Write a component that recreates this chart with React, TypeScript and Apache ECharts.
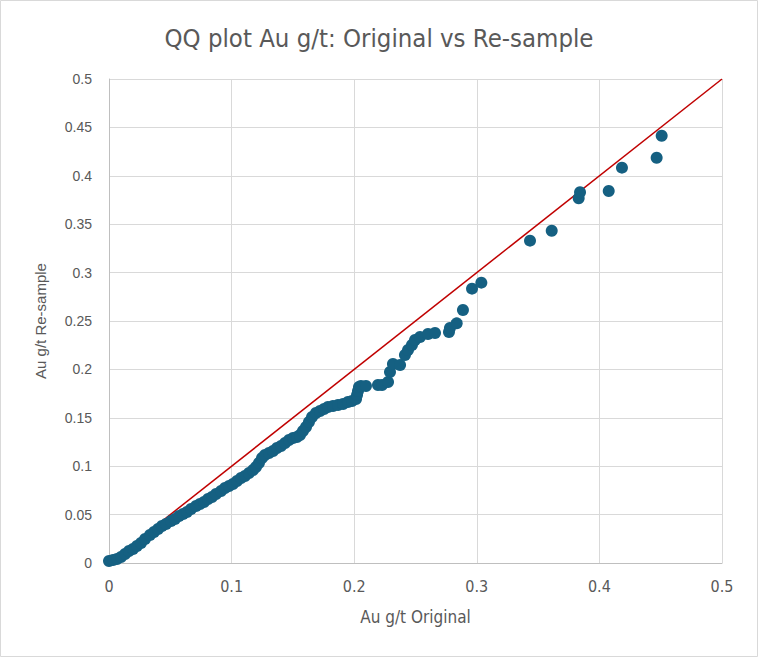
import React, { useEffect, useRef } from "react";
import * as echarts from "echarts";

const TITLE = "QQ plot Au g/t: Original vs Re-sample";
const X_NAME = "Au g/t Original";
const Y_NAME = "Au g/t Re-sample";

const xTicks = [0, 0.1, 0.2, 0.3, 0.4, 0.5];
const yTicks = [0, 0.05, 0.1, 0.15, 0.2, 0.25, 0.3, 0.35, 0.4, 0.45, 0.5];

// Quantiles of Au g/t: original (x) vs re-sample (y)
const originalQ = [
  0.0, 0.0033, 0.0065, 0.0098, 0.0131, 0.0163, 0.0196, 0.0228, 0.0261, 0.0294,
  0.0334, 0.0367, 0.04, 0.0432, 0.0465, 0.0506, 0.0538, 0.0571, 0.0604, 0.0636,
  0.0669, 0.071, 0.0742, 0.0775, 0.0808, 0.084, 0.0873, 0.0914, 0.0946, 0.0979,
  0.1011, 0.1044, 0.1077, 0.1109, 0.1142, 0.1175, 0.1199, 0.1223, 0.1248, 0.1272,
  0.1305, 0.1338, 0.137, 0.1403, 0.1436, 0.1468, 0.1501, 0.1533, 0.1558, 0.1582,
  0.1607, 0.1631, 0.1656, 0.1688, 0.1721, 0.1754, 0.1786, 0.1827, 0.1868, 0.1909,
  0.1949, 0.1982, 0.2015, 0.2023, 0.2031, 0.2039, 0.2055, 0.2096, 0.2194, 0.2227,
  0.2276, 0.2292, 0.2316, 0.2374, 0.2414, 0.2439, 0.2471, 0.2496, 0.2537, 0.2602,
  0.2659, 0.2773, 0.2781, 0.2836, 0.2887, 0.2961, 0.3037, 0.3434, 0.3611, 0.3831,
  0.3842, 0.4076, 0.4184, 0.4467, 0.4508,
];
const resampleQ = [
  0.0021, 0.0031, 0.0041, 0.0062, 0.0093, 0.0124, 0.0145, 0.0176, 0.0207, 0.0248,
  0.0289, 0.032, 0.0351, 0.0382, 0.0403, 0.0434, 0.0455, 0.0486, 0.0506, 0.0527,
  0.0558, 0.0589, 0.061, 0.063, 0.0661, 0.0682, 0.0713, 0.0744, 0.0775, 0.0795,
  0.0816, 0.0847, 0.0878, 0.0899, 0.093, 0.0961, 0.0992, 0.1033, 0.1085, 0.1116,
  0.1136, 0.1157, 0.1188, 0.1209, 0.124, 0.1271, 0.1291, 0.1302, 0.1322, 0.1364,
  0.1405, 0.1457, 0.1508, 0.155, 0.157, 0.1591, 0.1612, 0.1622, 0.1632, 0.1643,
  0.1663, 0.1674, 0.1694, 0.1736, 0.1777, 0.1818, 0.1829, 0.1829, 0.1839, 0.1839,
  0.187, 0.1973, 0.2056, 0.2045, 0.2149, 0.22, 0.2252, 0.2304, 0.2335, 0.2366,
  0.2376, 0.2386, 0.2428, 0.2476, 0.2614, 0.2834, 0.2896, 0.333, 0.3433, 0.3768,
  0.383, 0.3843, 0.4084, 0.4187, 0.4414,
];

const refLine = [
  [0, 0],
  [0.5, 0.5],
];

const NARROW = '"Liberation Sans Narrow", "DejaVu Sans Condensed", "Roboto", sans-serif';
const ARIAL = '"Liberation Sans", Arial, sans-serif';

export default function App() {
  const ref = useRef<HTMLDivElement>(null);

  useEffect(() => {
    document.body.style.margin = "0";
    if (!ref.current) return;
    const chart = echarts.init(ref.current, null, { renderer: "svg" });
    const points = originalQ.map((x, i) => [x, resampleQ[i]]);
    chart.setOption({
      animation: false,
      backgroundColor: "#ffffff",
      title: {
        text: TITLE,
        left: "center",
        top: 20,
        textStyle: {
          fontFamily: NARROW,
          fontSize: 25.5,
          fontWeight: "normal",
          color: "#595959",
        },
      },
      graphic: [
        {
          type: "rect",
          shape: { x: 0.5, y: 0.5, width: 757, height: 656 },
          style: { fill: "none", stroke: "#d9d9d9", lineWidth: 1 },
          silent: true,
        },
      ],
      grid: { left: 109, right: 36, top: 79, bottom: 94 },
      xAxis: {
        type: "value",
        min: 0,
        max: 0.5,
        interval: 0.1,
        name: X_NAME,
        nameLocation: "middle",
        nameGap: 45,
        nameTextStyle: { fontFamily: NARROW, fontSize: 17, color: "#595959" },
        axisLine: { show: true, lineStyle: { color: "#bfbfbf", width: 1 } },
        axisTick: { show: false },
        splitLine: { show: true, lineStyle: { color: "#d9d9d9", width: 1 } },
        axisLabel: {
          margin: 15,
          fontFamily: NARROW,
          fontSize: 16,
          color: "#595959",
          formatter: (v: number) => (xTicks.includes(Math.round(v * 10) / 10) ? String(Math.round(v * 10) / 10) : ""),
        },
      },
      yAxis: {
        type: "value",
        min: 0,
        max: 0.5,
        interval: 0.05,
        name: Y_NAME,
        nameLocation: "middle",
        nameGap: 61,
        nameTextStyle: { fontFamily: ARIAL, fontSize: 15, color: "#595959" },
        axisLine: { show: true, lineStyle: { color: "#bfbfbf", width: 1 } },
        axisTick: { show: false },
        splitLine: { show: true, lineStyle: { color: "#d9d9d9", width: 1 } },
        axisLabel: {
          margin: 17,
          fontFamily: ARIAL,
          fontSize: 14,
          color: "#595959",
          formatter: (v: number) => {
            const r = Math.round(v * 100) / 100;
            return yTicks.includes(r) ? String(r) : "";
          },
        },
      },
      series: [
        {
          type: "line",
          data: refLine,
          symbol: "none",
          lineStyle: { color: "#c00000", width: 1.5 },
          z: 2,
        },
        {
          type: "scatter",
          data: points,
          symbol: "circle",
          symbolSize: 12,
          itemStyle: { color: "#156082", opacity: 1 },
          z: 3,
        },
      ],
    });
    return () => chart.dispose();
  }, []);

  return <div ref={ref} style={{ width: 758, height: 657 }} />;
}
